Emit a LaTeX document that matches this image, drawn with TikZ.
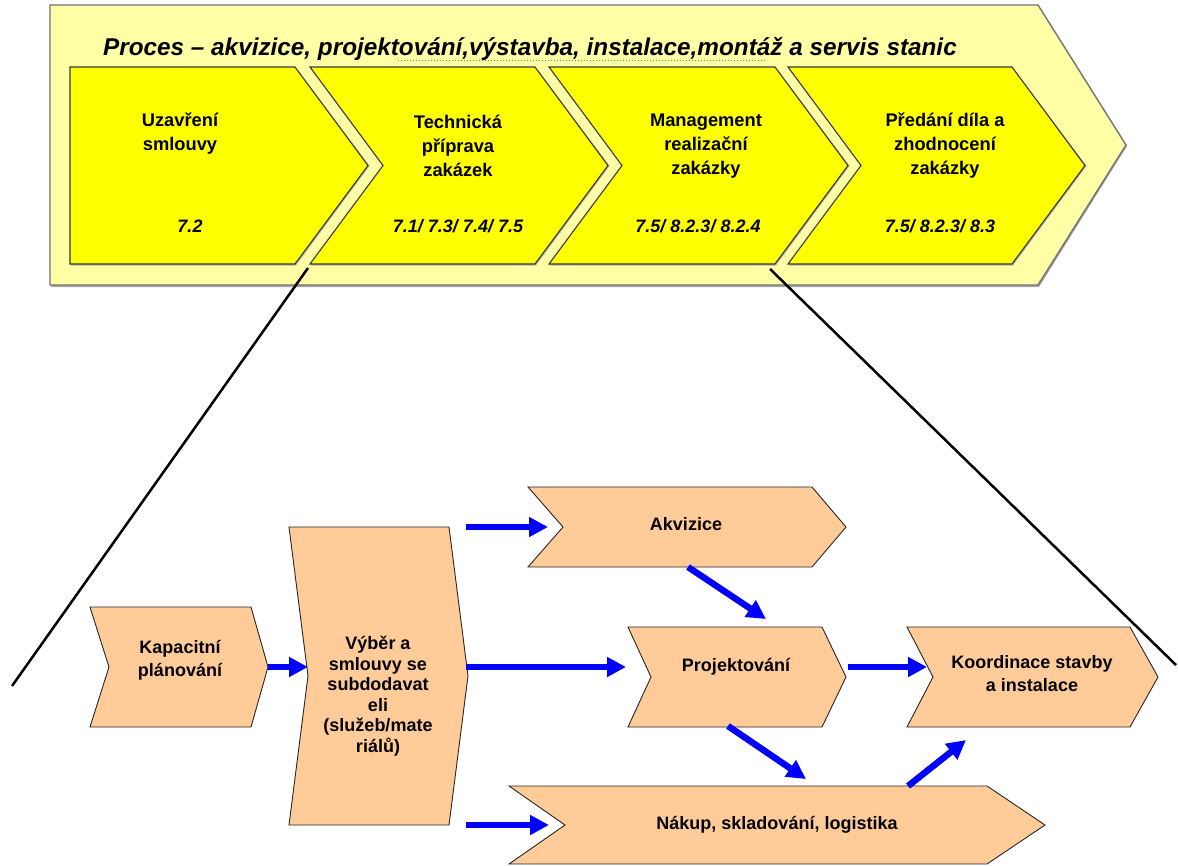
\documentclass[tikz,border=0pt]{standalone}
\usepackage{fontspec}
\setmainfont{Liberation Sans}
\usetikzlibrary{arrows.meta}

\definecolor{bandyellow}{HTML}{FFFFA6}
\definecolor{stageyellow}{HTML}{FFFF00}
\definecolor{taskpeach}{HTML}{FFCC99}
\definecolor{flowblue}{HTML}{0000FF}
\definecolor{spellgreen}{HTML}{33AA55}

\begin{document}
\begin{tikzpicture}[x=1pt,y=-1pt,
  band/.style={fill=bandyellow, draw=black!55, line width=1.4pt, line join=miter},
  bandshadow/.style={fill=black!35},
  stage/.style={fill=stageyellow, draw=black!78, line width=1.1pt, line join=miter},
  stageshadow/.style={fill=black!30},
  task/.style={fill=taskpeach, draw=black!85, line width=0.9pt, line join=miter},
  headline/.style={font=\bfseries\itshape\fontsize{24.3}{28}\selectfont, inner sep=0, anchor=base west},
  stagetext/.style={font=\bfseries\fontsize{18.3}{24}\selectfont, align=center, inner sep=0},
  reftext/.style={font=\bfseries\itshape\fontsize{18}{20}\selectfont, inner sep=0},
  tasktext/.style={font=\bfseries\fontsize{18}{23}\selectfont, align=center, inner sep=0},
  tighttext/.style={font=\bfseries\fontsize{18}{20.5}\selectfont, align=center, inner sep=0},
  flow/.style={draw=flowblue, line width=6.5pt, -{Triangle[length=19pt,width=19pt]}},
  guide/.style={draw=black, line width=2.5pt},
]
\useasboundingbox (0,0) rectangle (1178,865);

% ---------- process band ----------
\fill[bandshadow] (51,7) -- (1039,7) -- (1127,146) -- (1039,287) -- (51,287) -- cycle;
\draw[band] (50,5) -- (1038,5) -- (1126,145) -- (1038,285) -- (50,285) -- cycle;

\node[headline] (title) at (103,55)
  {Proces -- akvizice, projektování,výstavba, instalace,montáž a servis stanic};
\draw[spellgreen, line width=1pt, dotted] (398,60) -- (765,60);

% ---------- stage chevrons ----------
\fill[stageshadow] (71,68.5) -- (296,68.5) -- (369.5,166) -- (296,265.5) -- (71,265.5) -- cycle;
\draw[stage] (70,67) -- (295,67) -- (368,165.5) -- (295,264) -- (70,264) -- cycle;
\foreach \l/\r in {310/535, 549/775, 788/1012}{
  \fill[stageshadow] (\l+1,68.5) -- (\r+1,68.5) -- (\r+74.5,166) -- (\r+1,265.5)
     -- (\l+1,265.5) -- (\l+74.5,166) -- cycle;
  \draw[stage] (\l,67) -- (\r,67) -- (\r+73,165.5) -- (\r,264) -- (\l,264)
     -- (\l+73,165.5) -- cycle;
}

\node[stagetext] (s1) at (180,134) {Uzavření\\smlouvy};
\node[stagetext] (s2) at (458,146) {Technická\\příprava\\zakázek};
\node[stagetext] (s3) at (706,146) {Management\\realizační\\zakázky};
\node[stagetext] (s4) at (945,146) {Předání díla a\\zhodnocení\\zakázky};

\node[reftext] (r1) at (190,226) {7.2};
\node[reftext] (r2) at (458,226) {7.1/ 7.3/ 7.4/ 7.5};
\node[reftext] (r3) at (698,226) {7.5/ 8.2.3/ 8.2.4};
\node[reftext] (r4) at (940,226) {7.5/ 8.2.3/ 8.3};

% ---------- zoom guide lines ----------
\coordinate (ga) at (308,268);
\coordinate (gb) at (12,686);
\coordinate (gc) at (770,269);
\coordinate (gd) at (1176,665);
\draw[guide] (ga) -- (gb);
\draw[guide] (gc) -- (gd);

% ---------- detailed sub-process ----------
\draw[task] (90,607) -- (251,607) -- (268,667) -- (251,727) -- (90,727) -- (109,667) -- cycle;
\draw[task] (289,527) -- (449,527) -- (468,676) -- (449,825) -- (289,825) -- (308,676) -- cycle;
\draw[task] (528,487) -- (812,487) -- (846,527) -- (812,567) -- (528,567) -- (563,527) -- cycle;
\draw[task] (628,627) -- (822,627) -- (846,677) -- (822,727) -- (628,727) -- (651,677) -- cycle;
\draw[task] (907,627) -- (1130,627) -- (1158,677) -- (1130,727) -- (907,727) -- (933,677) -- cycle;
\draw[task] (509,786) -- (987,786) -- (1045,825) -- (987,864) -- (509,864) -- (565,825) -- cycle;

\node[tasktext] (kap) at (180,660) {Kapacitní\\plánování};
\node[tighttext] (vyb) at (378,696) {Výběr a\\smlouvy se\\subdodavat\\eli\\(služeb/mate\\riálů)};
\node[tasktext] (akv) at (686,524) {Akvizice};
\node[tasktext] (proj) at (736,667) {Projektování};
\node[tasktext] (koord) at (1032,674) {Koordinace stavby\\a instalace};
\node[tasktext] (nak) at (777,825) {Nákup, skladování, logistika};

% arrow end points on the shapes
\coordinate (kapOut) at (268,667);
\coordinate (vybIn) at (308,667);
\coordinate (vybOutA) at (466,527);
\coordinate (akvIn) at (548,527);
\coordinate (vybOutP) at (466,667);
\coordinate (projIn) at (626,667);
\coordinate (vybOutN) at (466,825);
\coordinate (nakIn) at (549,825);
\coordinate (akvOut) at (688,567);
\coordinate (projTop) at (766,619);
\coordinate (projOut) at (848,667);
\coordinate (koordIn) at (927,667);
\coordinate (projBot) at (728,726);
\coordinate (nakTop) at (806,779);
\coordinate (nakOut) at (908,786);
\coordinate (koordBot) at (966,740);

\draw[flow] (kapOut) -- (vybIn);
\draw[flow] (vybOutA) -- (akvIn);
\draw[flow] (vybOutP) -- (projIn);
\draw[flow] (vybOutN) -- (nakIn);
\draw[flow] (akvOut) -- (projTop);
\draw[flow] (projOut) -- (koordIn);
\draw[flow] (projBot) -- (nakTop);
\draw[flow] (nakOut) -- (koordBot);
\end{tikzpicture}
\end{document}
